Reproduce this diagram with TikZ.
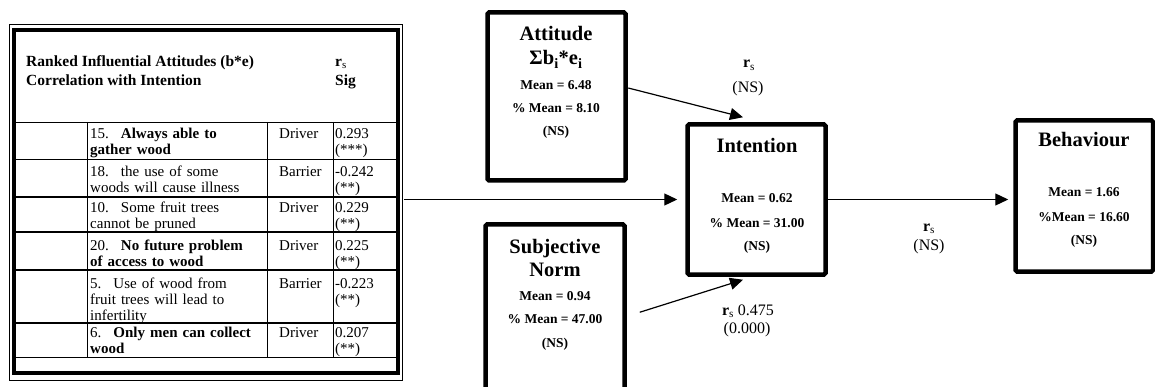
\documentclass[tikz,border=0pt]{standalone}
\usepackage{fontspec}
\setmainfont{Liberation Serif}
\usetikzlibrary{arrows.meta,calc}
\newcommand{\numgap}{\hspace{12pt}}
\begin{document}
\begin{tikzpicture}[x=1pt,y=-1pt,
  box/.style={draw, line width=4.5pt, rounded corners=1.5pt, inner sep=0pt},
  ttl/.style={font=\fontsize{20.5}{22}\selectfont\bfseries, anchor=base, inner sep=0pt},
  stat/.style={font=\fontsize{13.5}{15}\selectfont\bfseries, anchor=base, inner sep=0pt},
  lbl/.style={font=\fontsize{16}{18}\selectfont, anchor=base, inner sep=0pt},
  hdr/.style={font=\fontsize{15.5}{18}\selectfont\bfseries, anchor=base west, inner sep=0pt},
  cell/.style={font=\fontsize{15}{16}\selectfont, anchor=north west, inner sep=0pt, align=left, text width=#1},
  cell/.default=172pt,
  arr/.style={line width=1.2pt, -{Triangle[length=13pt,width=12pt]}},
  thingrid/.style={line width=0.8pt},
  thickgrid/.style={line width=1.5pt}]
\useasboundingbox (0,0) rectangle (1155,387);

% ---------- table ----------
\draw[line width=0.8pt] (9,24) rectangle (402.5,380);
\node[draw, line width=4pt, inner sep=0pt, minimum width=384pt, minimum height=342.5pt] (tbl) at (206,201.25) {};

\node[hdr] (h1) at (26,66.5) {Ranked Influential Attitudes (b*e)};
\node[hdr] (h2) at (26,85.5) {Correlation with Intention};
\node[hdr] (h3) at (335,66.5) {r\textsubscript{\mdseries s}};
\node[hdr] (h4) at (335,85.5) {Sig};

\draw[thingrid] (16,122) -- (396,122);
\draw[thingrid] (16,159) -- (396,159);
\draw[thickgrid] (16,197) -- (396,197);
\draw[thickgrid] (16,232) -- (396,232);
\draw[thickgrid] (16,270) -- (396,270);
\draw[thickgrid] (16,323) -- (396,323);
\draw[thingrid] (16,357) -- (396,357);
\draw[thingrid] (87,122) -- (87,357);
\draw[thingrid] (267,122) -- (267,357);
\draw[thingrid] (333,122) -- (333,357);

% first-line baseline = y + 11.2
\node[cell] (c11) at (90,126.8) {\strut 15.\numgap\textbf{Always able to}\\\textbf{gather wood}};
\node[cell=52pt] (c12) at (279,126.8) {\strut Driver};
\node[cell=60pt] (c13) at (335,126.8) {\strut 0.293\\(***)};

\node[cell] (c21) at (90,164.8) {\strut 18.\numgap the use of some\\woods will cause illness};
\node[cell=52pt] (c22) at (279,164.8) {\strut Barrier};
\node[cell=60pt] (c23) at (335,164.8) {\strut -0.242\\(**)};

\node[cell] (c31) at (90,201.3) {\strut 10.\numgap Some fruit trees\\cannot be pruned};
\node[cell=52pt] (c32) at (279,201.3) {\strut Driver};
\node[cell=60pt] (c33) at (335,201.3) {\strut 0.229\\(**)};

\node[cell] (c41) at (90,238.8) {\strut 20.\numgap\textbf{No future problem}\\\textbf{of access to wood}};
\node[cell=52pt] (c42) at (279,238.8) {\strut Driver};
\node[cell=60pt] (c43) at (335,238.8) {\strut 0.225\\(**)};

\node[cell] (c51) at (90,276.8) {\strut 5.\numgap Use of wood from\\fruit trees will lead to\\infertility};
\node[cell=52pt] (c52) at (279,276.8) {\strut Barrier};
\node[cell=60pt] (c53) at (335,276.8) {\strut -0.223\\(**)};

\node[cell] (c61) at (90,326.3) {\strut 6.\numgap\textbf{Only men can collect}\\\textbf{wood}};
\node[cell=52pt] (c62) at (279,326.3) {\strut Driver};
\node[cell=60pt] (c63) at (335,326.3) {\strut 0.207\\(**)};

% ---------- boxes ----------
\node[box, minimum width=138pt, minimum height=168pt] (att) at (556.5,96.5) {};
\node[box, minimum width=138pt, minimum height=150pt] (int) at (756.5,199.5) {};
\node[box, minimum width=139pt, minimum height=195.5pt] (sn) at (555,322.25) {};
\node[box, minimum width=137.5pt, minimum height=151pt] (beh) at (1084.25,196) {};

\node[ttl] (att1) at (556,41) {Attitude};
\node[ttl] (att2) at (556,65) {Σb\textsubscript{i}*e\textsubscript{i}};
\node[stat] (att3) at (556,90) {Mean = 6.48};
\node[stat] (att4) at (556,113) {\% Mean = 8.10};
\node[stat] (att5) at (556,136) {(NS)};

\node[ttl] (int1) at (757,153) {Intention};
\node[stat] (int2) at (757,203) {Mean = 0.62};
\node[stat] (int3) at (757,227) {\% Mean = 31.00};
\node[stat] (int4) at (757,250) {(NS)};

\node[ttl] (sn1) at (555,253) {Subjective};
\node[ttl] (sn2) at (555,276) {Norm};
\node[stat] (sn3) at (555,300) {Mean = 0.94};
\node[stat] (sn4) at (555,323) {\% Mean = 47.00};
\node[stat] (sn5) at (555,347) {(NS)};

\node[ttl] (beh1) at (1084,147) {Behaviour};
\node[stat] (beh2) at (1084,197) {Mean = 1.66};
\node[stat] (beh3) at (1084,222) {\%Mean = 16.60};
\node[stat] (beh4) at (1084,244) {(NS)};

% ---------- connectors ----------
\draw[arr, shorten <=4pt, shorten >=8pt] (tbl.east |- int.west) -- (int.west);
\draw[arr, shorten >=5pt] (int.east) -- (beh.west |- int.east);
\draw[arr] ($(att.east)+(0.5,-8.5)$) -- ($(int.north)+(-13.5,-5)$);
\draw[arr] ($(sn.east)+(13,-10)$) -- ($(int.south)+(-13.5,3)$);

% ---------- labels ----------
\node[lbl] (l1a) at (749,68) {\textbf{r}\textsubscript{s}};
\node[lbl] (l1b) at (748,93) {(NS)};
\node[lbl] (l2a) at (748,315) {\textbf{r}\textsubscript{s} 0.475};
\node[lbl] (l2b) at (747,333) {(0.000)};
\node[lbl] (l3a) at (929,231) {\textbf{r}\textsubscript{s}};
\node[lbl] (l3b) at (929,250) {(NS)};
\end{tikzpicture}
\end{document}
